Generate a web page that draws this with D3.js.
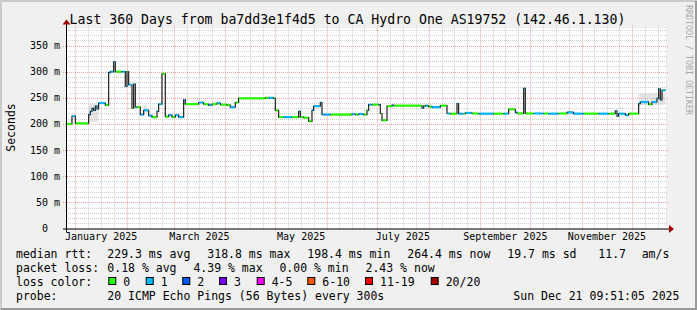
<!DOCTYPE html>
<html><head><meta charset="utf-8">
<script src="https://cdn.jsdelivr.net/npm/d3@7"></script>
<style>
html,body{margin:0;padding:0;background:#f0f0f0;}
svg{display:block;font-family:"DejaVu Sans Mono",monospace;}
</style>
</head><body>
<svg id="c" width="697" height="310"></svg>
<script>
// ---------- data ----------
const startTime = "2024-12-26T09:51:05";
const endTime = "2025-12-21T09:51:05";
const stepDates = ["2024-12-26","2024-12-30","2025-01-01","2025-01-09","2025-01-10","2025-01-11","2025-01-12","2025-01-13","2025-01-14","2025-01-15","2025-01-19","2025-01-21","2025-01-22","2025-01-24","2025-01-25","2025-01-29","2025-01-31","2025-02-01","2025-02-02","2025-02-04","2025-02-05","2025-02-06","2025-02-07","2025-02-09","2025-02-11","2025-02-14","2025-02-16","2025-02-19","2025-02-20","2025-02-22","2025-02-24","2025-02-26","2025-02-28","2025-03-02","2025-03-04","2025-03-07","2025-03-08","2025-03-16","2025-03-19","2025-03-22","2025-03-24","2025-03-27","2025-03-29","2025-04-02","2025-04-04","2025-04-07","2025-04-09","2025-04-25","2025-04-27","2025-04-30","2025-05-01","2025-05-03","2025-05-06","2025-05-11","2025-05-15","2025-05-16","2025-05-18","2025-05-21","2025-05-23","2025-05-24","2025-05-28","2025-05-29","2025-05-31","2025-06-03","2025-06-16","2025-06-18","2025-06-20","2025-06-23","2025-06-25","2025-06-26","2025-06-28","2025-07-02","2025-07-03","2025-07-04","2025-07-07","2025-07-10","2025-07-11","2025-07-28","2025-07-29","2025-07-30","2025-08-01","2025-08-03","2025-08-08","2025-08-12","2025-08-14","2025-08-18","2025-08-19","2025-08-22","2025-08-23","2025-08-27","2025-08-31","2025-09-09","2025-09-15","2025-09-18","2025-09-22","2025-09-23","2025-09-27","2025-09-28","2025-10-03","2025-10-09","2025-10-12","2025-10-18","2025-10-23","2025-10-27","2025-11-02","2025-11-11","2025-11-17","2025-11-21","2025-11-22","2025-11-23","2025-11-27","2025-11-29","2025-12-05","2025-12-06","2025-12-11","2025-12-13","2025-12-16","2025-12-17","2025-12-18","2025-12-19"];
const medianMs = [200,215,201,218,224,230,226,234,229,240,236,298,300,318.8,300,300,272,300,275,230,276,232,232,218,226,216,213,224,238,296,214,217,213,217,213,246,238,241,238,236,238,240,237,236,232,241,249,250,250,249,226,213,213,213,224,213,212,205,226,234,241,218,218,218,219,218,219,218,226,237,237,237,220,207,234,236,235,230,234,235,233,232,235,220,219.5,239,219.5,219.5,221,220,219.7,219.7,219.7,228,222,220,268,220,220,220,219.7,220,222,219.7,219.7,219.7,219.7,225,215,219.7,216.7,219.7,239,242,237.5,242,249,267,246,264.4];
const lossIdx = [0,1,0,1,1,1,1,1,1,1,0,1,1,1,0,1,1,0,1,0,1,1,0,1,1,1,0,1,1,0,0,1,0,1,1,1,0,1,0,1,0,1,0,0,1,0,0,0,1,0,0,0,1,0,1,0,0,0,1,1,1,1,1,0,1,0,1,0,0,1,0,1,0,0,0,1,0,1,0,1,0,1,0,1,0,1,1,0,1,0,1,0,1,0,1,0,1,0,1,0,1,0,1,1,0,1,0,1,1,1,1,0,1,1,0,1,1,1,1,1];
const smokeStart = ["2025-01-09","2025-02-11","2025-05-28","2025-08-18","2025-09-27","2025-10-23","2025-12-05"];
const smokeEnd   = ["2025-01-15","2025-02-13","2025-05-29","2025-08-19","2025-09-28","2025-10-27","2025-12-21"];
const smokeLo = [204,224,236,226,224,218,236];
const smokeHi = [238,236,244,240,262,224,258];
const yTicks = [0,50,100,150,200,250,300,350];
const yTickLabels = ["0","50 m","100 m","150 m","200 m","250 m","300 m","350 m"];
const monthLabels = ["January 2025","March 2025","May 2025","July 2025","September 2025","November 2025"];
const monthLabelDates = ["2025-01-01","2025-03-01","2025-05-01","2025-07-01","2025-09-01","2025-11-01"];
const lossLabels = ["0","1","2","3","4-5","6-10","11-19","20/20"];
const lossColors = ["#26ff00","#00b8ff","#0059ff","#7e00ff","#ff00ff","#ff5500","#ff0000","#a10000"];
const titleText = "Last 360 Days from ba7dd3e1f4d5 to CA Hydro One AS19752 (142.46.1.130)";

(function () {
const W = 697, H = 310;
const svg = d3.select("#c");
const pD = d3.timeParse("%Y-%m-%d");
const pT = d3.timeParse("%Y-%m-%dT%H:%M:%S");
const t0 = pT(startTime), t1 = pT(endTime);
const pl = 66, pr = 666, pt = 28.5, pb = 228.5;
const yMax = 318.8 * 1.2;
const x = d3.scaleTime().domain([t0, t1]).range([pl, pr]);
const y = d3.scaleLinear().domain([0, yMax]).range([pb, pt]);

// background and frame
svg.append("rect").attr("width", W).attr("height", H).attr("fill", "#f0f0f0");
svg.append("path").attr("d", `M1,${H} V1 H${W}`).attr("stroke", "#cbcbcb").attr("stroke-width", 2).attr("fill", "none");
svg.append("path").attr("d", `M1,${H-1} H${W-1} V1`).attr("stroke", "#999999").attr("stroke-width", 2).attr("fill", "none");
svg.append("rect").attr("x", pl).attr("y", pt).attr("width", pr - pl).attr("height", pb - pt).attr("fill", "#ffffff");

// grid
const g = svg.append("g");
d3.range(10, yMax, 10).forEach(v => {
  if (v % 50 === 0) return;
  const yy = Math.round(y(v)) + 0.5;
  g.append("line").attr("x1", pl).attr("x2", pr + 2).attr("y1", yy).attr("y2", yy)
    .attr("stroke", "#cdcdcd").attr("stroke-dasharray", "1,1");
});
d3.timeMonth.range(d3.timeMonth.floor(t0), t1).forEach(m => {
  const n = d3.timeMonth.offset(m, 1);
  for (let k = 1; k < 4; k++) {
    const t = new Date(+m + (n - m) * k / 4);
    if (t <= t0 || t >= t1) continue;
    const xx = Math.round(x(t)) + 0.5;
    g.append("line").attr("x1", xx).attr("x2", xx).attr("y1", pt - 3).attr("y2", pb)
      .attr("stroke", "#cdcdcd").attr("stroke-dasharray", "1,1");
  }
});
yTicks.forEach(v => {
  if (v === 0) return;
  const yy = Math.round(y(v)) + 0.5;
  g.append("line").attr("x1", pl - 3).attr("x2", pr + 2).attr("y1", yy).attr("y2", yy)
    .attr("stroke", "#f0a0a0").attr("stroke-dasharray", "1,1");
});
d3.timeMonth.range(d3.timeMonth.ceil(t0), t1).forEach(m => {
  const xx = Math.round(x(m)) + 0.5;
  g.append("line").attr("x1", xx).attr("x2", xx).attr("y1", pt - 3).attr("y2", pb + 3)
    .attr("stroke", "#f0a0a0").attr("stroke-dasharray", "1,1");
});

// smoke
const smoke = smokeStart.map((s, i) => ({ s: pD(s), e: pD(smokeEnd[i]), lo: smokeLo[i], hi: smokeHi[i] }));
svg.append("g").selectAll("rect").data(smoke).join("rect")
  .attr("x", d => x(d.s)).attr("width", d => Math.max(1, x(d.e) - x(d.s)))
  .attr("y", d => y(d.hi)).attr("height", d => y(d.lo) - y(d.hi))
  .attr("fill", "#c4c4c4").attr("opacity", 0.45);

// median line
const pts = stepDates.map((d, i) => ({ t: pD(d), v: medianMs[i], c: lossIdx[i] }));
const pts2 = pts.concat([{ t: t1, v: medianMs[medianMs.length - 1], c: 1 }]);
const cx = d => x(d.t < t0 ? t0 : d.t);
const line = d3.line().x(cx).y(d => y(d.v)).curve(d3.curveStepAfter);
svg.append("path").attr("d", line(pts2)).attr("fill", "none").attr("stroke", "#202020").attr("stroke-width", 1.2);
svg.append("g").selectAll("line").data(pts).join("line")
  .attr("x1", d => cx(d) + 0.5)
  .attr("x2", (d, i) => x(pts2[i + 1].t) - 0.5)
  .attr("y1", d => y(d.v)).attr("y2", d => y(d.v))
  .attr("stroke", d => lossColors[d.c]).attr("stroke-width", 2.2);

// axes
svg.append("line").attr("x1", pl - 3).attr("x2", pr + 4).attr("y1", pb + 0.5).attr("y2", pb + 0.5).attr("stroke", "#000");
svg.append("line").attr("x1", pl + 0.5).attr("x2", pl + 0.5).attr("y1", pt - 5).attr("y2", pb + 4).attr("stroke", "#000");
svg.append("path").attr("d", `M${pr + 3},${pb - 3.5} L${pr + 8},${pb + 0.5} L${pr + 3},${pb + 4.5} Z`).attr("fill", "#a00000");
svg.append("path").attr("d", `M${pl - 3.5},${pt - 4} L${pl + 0.5},${pt - 9} L${pl + 4.5},${pt - 4} Z`).attr("fill", "#a00000");

// y labels (unitless label keeps room for the unit suffix)
svg.append("g").selectAll("text").data(yTicks).join("text")
  .attr("x", (d, i) => yTickLabels[i].endsWith(" m") ? 60 : 48).attr("y", d => y(d) + 3.5).attr("text-anchor", "end")
  .attr("font-size", "10px").attr("fill", "#000").text((d, i) => yTickLabels[i]);
// x labels centred on month
svg.append("g").selectAll("text").data(monthLabelDates).join("text")
  .attr("x", d => { const m = pD(d); return (x(m) + x(d3.timeMonth.offset(m, 1))) / 2; })
  .attr("y", 240).attr("text-anchor", "middle").attr("font-size", "10px").attr("fill", "#000")
  .text((d, i) => monthLabels[i]);

svg.append("text").attr("transform", "translate(15,127.5) rotate(-90)").attr("text-anchor", "middle")
  .attr("font-size", "11.5px").attr("fill", "#000").text("Seconds");
svg.append("text").attr("x", 347.5).attr("y", 24).attr("text-anchor", "middle").attr("font-size", "13.2px").attr("fill", "#000").text(titleText);
svg.append("text").attr("transform", "translate(686,5) rotate(90)").attr("font-size", "8.3px").attr("fill", "#a8a8a8").text("RRDTOOL / TOBI OETIKER");

// legend
const fs = "11.5px";
function txt(xx, yy, s) { svg.append("text").attr("x", xx).attr("y", yy).attr("font-size", fs).attr("fill", "#000").text(s); }
const r1 = 257.5, r2 = 271.5, r3 = 285.5, r4 = 299.5;
txt(16, r1, "median rtt:");
txt(107.3, r1, "229.3 ms avg"); txt(207.3, r1, "318.8 ms max"); txt(307.3, r1, "198.4 ms min");
txt(407.3, r1, "264.4 ms now"); txt(507.3, r1, "19.7 ms sd"); txt(598.3, r1, "11.7"); txt(641.7, r1, "am/s");
txt(16, r2, "packet loss:");
txt(107.3, r2, "0.18 % avg"); txt(193.4, r2, "4.39 % max"); txt(279.4, r2, "0.00 % min"); txt(365.5, r2, "2.43 % now");
txt(16, r3, "loss color:");
const boxX = [108.3, 145.7, 182.3, 219, 256.7, 307.3, 365, 430.7];
lossLabels.forEach((l, i) => {
  svg.append("rect").attr("x", boxX[i] + 0.5).attr("y", 277.5).attr("width", 7).attr("height", 7)
    .attr("fill", lossColors[i]).attr("stroke", "#000").attr("stroke-width", 1);
  txt(boxX[i] + 15, r3, l);
});
txt(16, r4, "probe:");
txt(107.3, r4, "20 ICMP Echo Pings (56 Bytes) every 300s");
txt(513.3, r4, "Sun Dec 21 09:51:05 2025");
})();
</script>
</body></html>
